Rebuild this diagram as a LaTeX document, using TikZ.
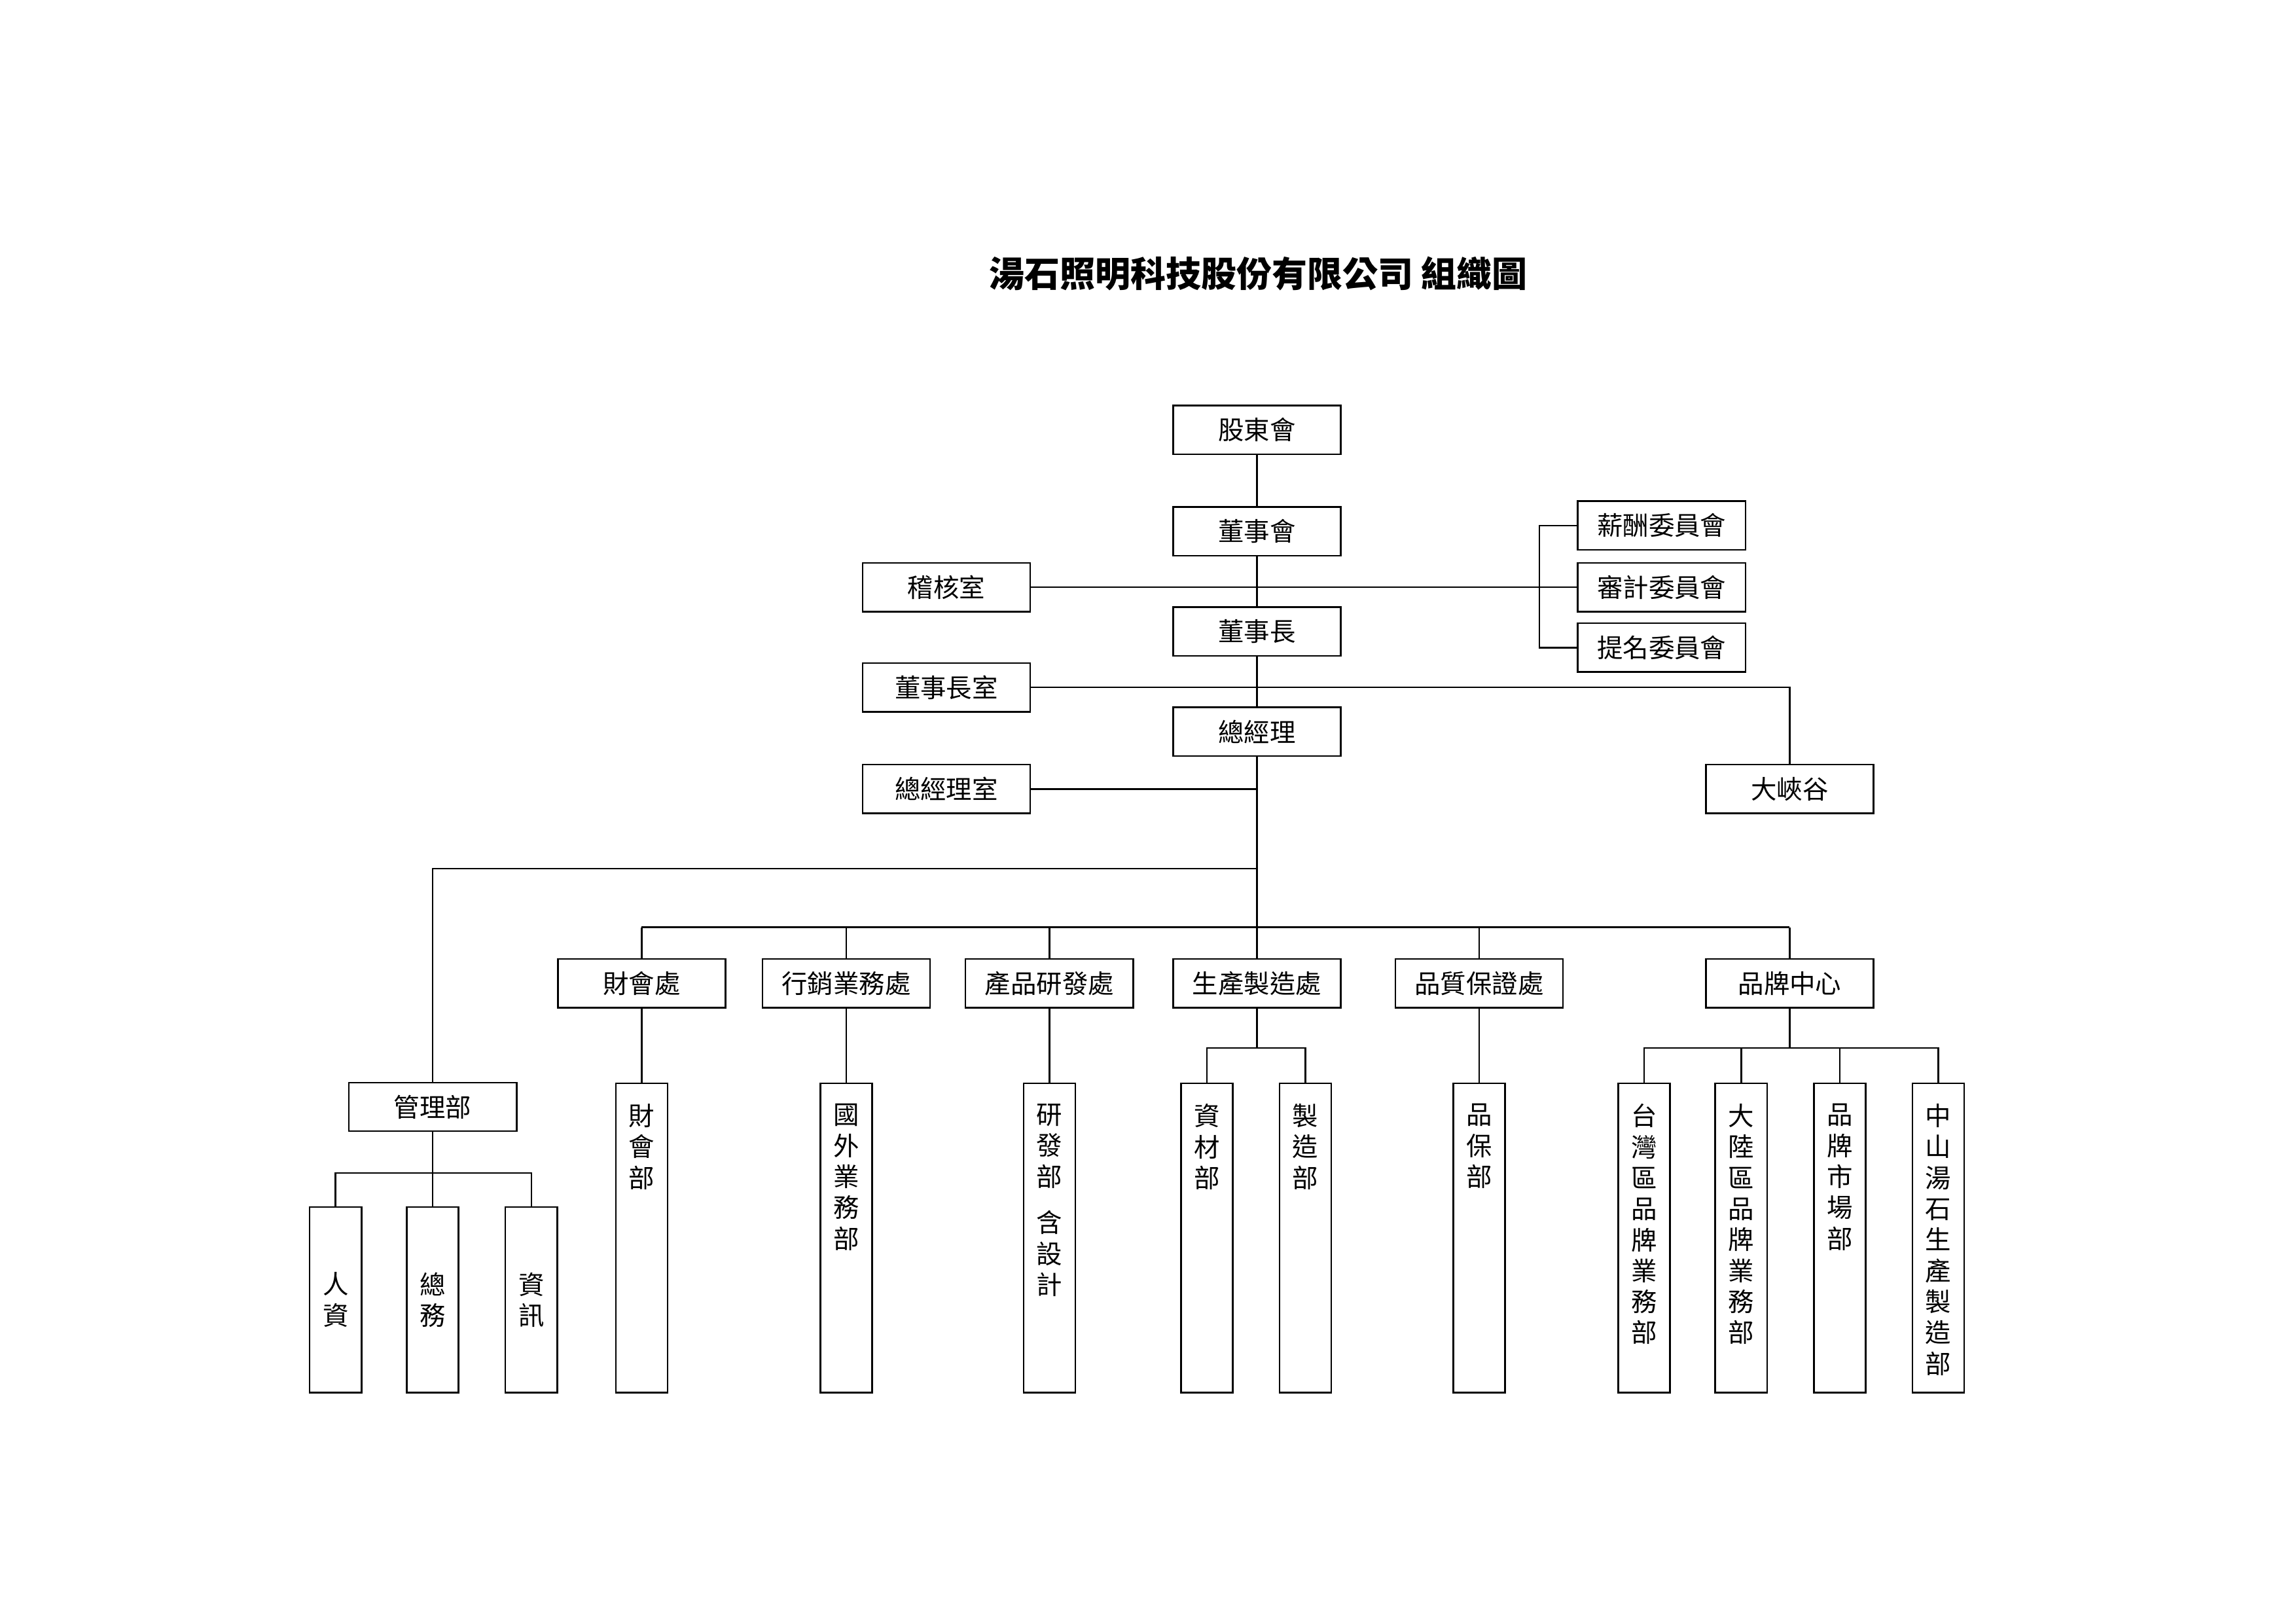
\documentclass[tikz,border=0pt]{standalone}
\usepackage{fontspec}
\setmainfont{Noto Sans CJK TC}
\usetikzlibrary{positioning}
\tikzset{
  unit/.style={draw, line width=0.6pt, minimum width=2.17cm, minimum height=0.63cm, inner sep=0pt, font=\fontsize{9.5}{11}\selectfont},
  vbox/.style={draw, line width=0.6pt, minimum width=0.67cm, minimum height=4cm, inner sep=0pt},
  sbox/.style={draw, line width=0.6pt, minimum width=0.67cm, minimum height=2.4cm, inner sep=0pt, align=center, font=\fontsize{9.5}{11.4}\selectfont},
  vtxt/.style={anchor=north, align=center, inner sep=0pt, yshift=-0.27cm, font=\fontsize{9.5}{11.4}\selectfont},
  link/.style={line width=0.6pt}
}
\begin{document}
\begin{tikzpicture}[x=0.01904cm, y=-0.01904cm]
\useasboundingbox (0,0) rectangle (1560,1103);
\node[font=\bfseries\fontsize{13}{15}\selectfont] (title) at (855,186) {湯石照明科技股份有限公司 組織圖};
% top chain
\node[unit] (gdh) at (854,292) {股東會};
\node[unit] (dsh) at (854,361) {董事會};
\node[unit] (dsz) at (854,429) {董事長};
\node[unit] (zjl) at (854,497) {總經理};
\node[unit] (jhs) at (643,399) {稽核室};
\node[unit] (dszs) at (643,467) {董事長室};
\node[unit] (zjls) at (643,536) {總經理室};
\node[unit] (xc) at (1129,357) {薪酬委員會};
\node[unit] (sj) at (1129,399) {審計委員會};
\node[unit] (tm) at (1129,440) {提名委員會};
\node[unit] (dxg) at (1216,536) {大峽谷};
\coordinate (br) at (1046,399);
\coordinate (bus) at (854,630);
\coordinate (mbus) at (854,590);
\draw[link] (gdh) -- (dsh);
\draw[link] (dsh) -- (dsz);
\draw[link] (dsz) -- (zjl);
\draw[link] (jhs.east) -- (sj.west);
\draw[link] (xc.west) -| (br) |- (tm.west);
\draw[link] (dszs.east) -| (dxg.north);
\draw[link] (zjls.east) -- (zjls.east -| zjl);
\draw[link] (zjl) -- (bus);
% divisions
\node[unit] (gl) at (294,752) {管理部};
\node[unit] (ch) at (436,668) {財會處};
\node[unit] (xx) at (575,668) {行銷業務處};
\node[unit] (cp) at (713,668) {產品研發處};
\node[unit] (sc) at (854,668) {生產製造處};
\node[unit] (pz) at (1005,668) {品質保證處};
\node[unit] (pp) at (1216,668) {品牌中心};
\draw[link] (mbus) -| (gl.north);
\foreach \d in {ch,xx,cp,sc,pz,pp} \draw[link] (bus -| \d) -- (\d.north);
\draw[link] (bus -| ch) -- (bus -| pp);
% departments
\node[vbox] (chb) at (436,841) {};
\node[vbox] (gw) at (575,841) {};
\node[vbox] (yf) at (713,841) {};
\node[vbox] (zc) at (820,841) {};
\node[vbox] (zz) at (887,841) {};
\node[vbox] (pb) at (1005,841) {};
\node[vbox] (tw) at (1117,841) {};
\node[vbox] (dl) at (1183,841) {};
\node[vbox] (sc2) at (1250,841) {};
\node[vbox] (zs) at (1317,841) {};
\node[vtxt] at (chb.north) {財\\會\\部};
\node[vtxt] at (gw.north) {國\\外\\業\\務\\部};
\node[vtxt] at (yf.north) {研\\發\\部\\[0.2cm]含\\設\\計};
\node[vtxt] at (zc.north) {資\\材\\部};
\node[vtxt] at (zz.north) {製\\造\\部};
\node[vtxt] at (pb.north) {品\\保\\部};
\node[vtxt] at (tw.north) {台\\灣\\區\\品\\牌\\業\\務\\部};
\node[vtxt] at (dl.north) {大\\陸\\區\\品\\牌\\業\\務\\部};
\node[vtxt] at (sc2.north) {品\\牌\\市\\場\\部};
\node[vtxt] at (zs.north) {中\\山\\湯\\石\\生\\產\\製\\造\\部};
\draw[link] (ch) -- (chb);
\draw[link] (xx) -- (gw);
\draw[link] (cp) -- (yf);
\draw[link] (pz) -- (pb);
\coordinate (scb) at (854,712);
\coordinate (ppb) at (1216,712);
\draw[link] (sc) -- (scb);
\draw[link] (zc.north) |- (scb) -| (zz.north);
\draw[link] (pp) -- (ppb);
\draw[link] (tw.north) |- (ppb) -| (zs.north);
\draw[link] (dl.north) -- (dl.north |- ppb);
\draw[link] (sc2.north) -- (sc2.north |- ppb);
% management
\node[sbox] (rz) at (228,883) {人\\資};
\node[sbox] (zw) at (294,883) {總\\務};
\node[sbox] (zx) at (361,883) {資\\訊};
\coordinate (glb) at (294,797);
\draw[link] (gl) -- (zw);
\draw[link] (rz.north) |- (glb) -| (zx.north);
\end{tikzpicture}
\end{document}
